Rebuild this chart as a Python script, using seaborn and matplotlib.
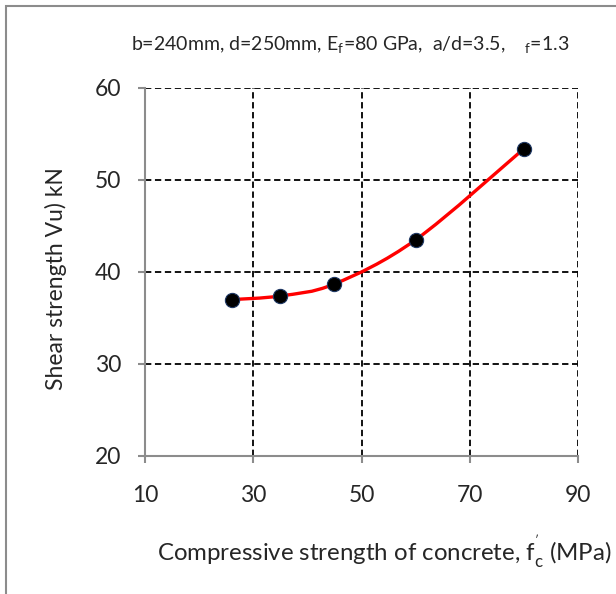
import numpy as np
import pandas as pd
import matplotlib
matplotlib.use("Agg")
import matplotlib.pyplot as plt
from matplotlib.path import Path
from matplotlib.patches import PathPatch, Rectangle
import seaborn as sns

fc = [26, 35, 45, 60, 80]
vu = [37.0, 37.4, 38.7, 43.5, 53.4]
xticks = [10, 30, 50, 70, 90]
yticks = [20, 30, 40, 50, 60]

sns.set_style("white")
plt.rcParams['font.family'] = ['Lato', 'DejaVu Sans']
plt.rcParams['mathtext.fontset'] = 'custom'
plt.rcParams['mathtext.rm'] = 'Lato'

fig = plt.figure(figsize=(6.16, 5.94), dpi=100)
ax = fig.add_axes([145/616, 1-456/594, (578-145)/616, (456-88)/594])

# figure border (chart area outline)
fig.patches.append(Rectangle((6/616, -0.1), 1.2, 1-6/594+0.1, transform=fig.transFigure,
                             fill=False, edgecolor='#8c8c8c', linewidth=1.5, zorder=0))

ax.set_xlim(10, 90)
ax.set_ylim(20, 60)
ax.set_xticks(xticks)
ax.set_yticks(yticks)
ax.grid(True, color='black', linestyle=(0, (3.5, 2)), linewidth=1.3)
ax.set_axisbelow(True)
for s in ['top', 'right']:
    ax.spines[s].set_visible(False)
for s in ['left', 'bottom']:
    ax.spines[s].set_color('#8c8c8c')
    ax.spines[s].set_linewidth(1.5)
ax.tick_params(axis='both', direction='out', length=5, width=1.5, color='#8c8c8c',
               labelsize=16.5, left=True, bottom=True)
ax.tick_params(axis='x', pad=16)
ax.tick_params(axis='y', pad=12)

# smoothed line (Excel-like Catmull-Rom Bezier)
P = np.column_stack([fc, vu]).astype(float)
n = len(P)
verts = [tuple(P[0])]
codes = [Path.MOVETO]
for i in range(n - 1):
    p0 = P[i - 1] if i > 0 else P[i]
    p1 = P[i]
    p2 = P[i + 1]
    p3 = P[i + 2] if i + 2 < n else P[i + 1]
    c1 = p1 + (p2 - p0) / 6
    c2 = p2 - (p3 - p1) / 6
    verts += [tuple(c1), tuple(c2), tuple(p2)]
    codes += [Path.CURVE4] * 3
ax.add_patch(PathPatch(Path(verts, codes), fill=False, edgecolor='#ff0000',
                       linewidth=2.4, zorder=3, capstyle='round'))

df = pd.DataFrame({'fc': fc, 'vu': vu})
sns.scatterplot(data=df, x='fc', y='vu', ax=ax, color='black', s=105,
                edgecolor='#1f3864', linewidth=0.8, zorder=4, legend=False)

ax.set_xlabel('')
ax.set_ylabel('')
fig.text(56/616, 1-279/594, 'Shear strength Vu) kN', rotation=90, ha='center', va='center',
         fontsize=16.5)
fig.text(384/616, 1-552/594, "Compressive strength of concrete, f$_\\mathregular{c}^{\\mathregular{'}}$ (MPa)",
         ha='center', va='center', fontsize=17.3)
fig.text(350/616, 1-45/594,
         "b=240mm, d=250mm, E$_\\mathregular{f}$=80 GPa,  a/d=3.5,    $_\\mathregular{f}$=1.3",
         ha='center', va='center', fontsize=14)

fig.savefig('out.png', dpi=100)
